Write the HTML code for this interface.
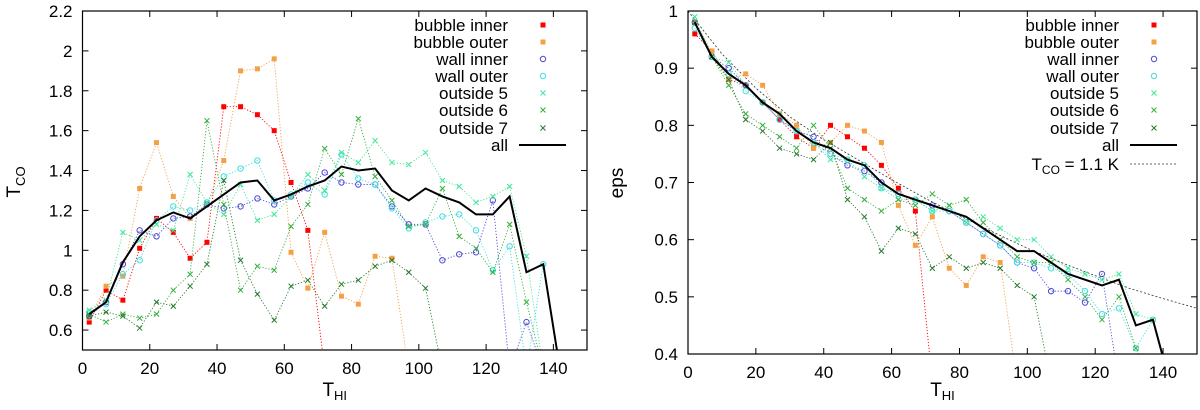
<!DOCTYPE html>
<html><head><meta charset="utf-8"><style>
html,body{margin:0;padding:0;background:#fff;overflow:hidden;width:1200px;height:410px;}
svg{display:block;font-family:"Liberation Sans",sans-serif;}
</style></head><body>
<svg id="chart" width="1200" height="410" viewBox="0 0 1200 410"></svg>
<script>
const xs = [2,7,12,17,22,27,32,37,42,47,52,57,62,67,72,77,82,87,92,97,102,107,112,117,122,127,132,137,142];
const seriesNames = ["bubble inner","bubble outer","wall inner","wall outer","outside 5","outside 6","outside 7","all"];
const N = null;
// left panel T_CO values
const tcoBubbleInner = [0.64,0.80,0.75,1.01,1.16,1.09,0.96,1.04,1.72,1.72,1.68,1.60,1.34,1.10,0.4,N,N,N,N,N,N,N,N,N,N,N,N,N,N];
const tcoBubbleOuter = [0.66,0.82,0.87,1.31,1.54,1.27,1.16,1.23,1.45,1.90,1.91,1.96,0.99,0.81,1.09,0.77,0.73,0.97,0.96,0.4,N,N,N,N,N,N,N,N,N];
const tcoWallInner = [0.67,0.74,0.93,1.10,1.07,1.16,1.17,1.23,1.21,1.22,1.26,1.23,1.27,1.31,1.39,1.34,1.33,1.33,1.22,1.13,1.13,0.95,0.98,0.99,1.25,0.4,0.64,0.4,N];
const tcoWallOuter = [0.69,0.73,0.88,0.95,1.15,1.22,1.20,1.24,1.37,1.41,1.45,1.25,1.28,1.34,1.28,1.48,1.36,1.33,1.21,1.11,1.14,1.17,1.18,1.10,0.90,1.02,0.4,0.93,N];
const tcoOut5 = [0.70,0.75,1.09,1.05,1.13,1.10,1.38,1.24,1.18,1.33,1.15,1.18,1.27,1.38,1.30,1.49,1.44,1.55,1.44,1.43,1.49,1.35,1.32,1.24,1.27,1.32,0.97,0.4,N];
const tcoOut6 = [0.68,0.64,0.68,0.66,0.68,0.80,0.88,1.65,1.23,0.80,0.92,0.90,1.12,1.23,1.51,1.38,1.66,1.37,1.25,1.12,1.13,1.31,1.07,1.01,0.89,1.13,0.74,0.4,N];
const tcoOut7 = [0.67,0.69,0.67,0.61,0.74,0.72,0.82,0.93,1.35,0.95,0.78,0.65,0.82,0.85,0.72,0.83,0.85,0.92,0.95,0.89,0.81,0.4,N,N,N,N,N,N,N];
const tcoAll = [0.68,0.74,0.94,1.07,1.15,1.19,1.16,1.22,1.28,1.34,1.35,1.25,1.28,1.32,1.35,1.42,1.40,1.41,1.30,1.25,1.31,1.27,1.24,1.18,1.18,1.27,0.89,0.93,0.4];
// right panel eps values
const epsBubbleInner = [0.96,0.93,0.88,0.87,0.84,0.81,0.78,0.76,0.80,0.78,0.76,0.73,0.69,0.65,0.35,N,N,N,N,N,N,N,N,N,N,N,N,N,N];
const epsBubbleOuter = [0.98,0.93,0.88,0.89,0.87,0.82,0.80,0.76,0.77,0.80,0.79,0.77,0.66,0.59,0.64,0.55,0.52,0.57,0.56,0.35,N,N,N,N,N,N,N,N,N];
const epsWallInner = [0.98,0.92,0.90,0.87,0.84,0.81,0.79,0.78,0.75,0.73,0.72,0.70,0.68,0.67,0.66,0.65,0.63,0.61,0.59,0.56,0.55,0.51,0.51,0.49,0.54,0.35,N,N,N];
const epsWallOuter = [0.97,0.92,0.89,0.86,0.84,0.81,0.79,0.77,0.75,0.74,0.73,0.69,0.68,0.67,0.65,0.65,0.63,0.61,0.59,0.56,0.56,0.55,0.54,0.51,0.47,0.48,0.41,0.46,N];
const epsOut5 = [0.99,0.92,0.91,0.87,0.84,0.82,0.79,0.77,0.74,0.74,0.71,0.69,0.67,0.67,0.65,0.66,0.63,0.64,0.62,0.60,0.60,0.57,0.55,0.54,0.53,0.54,0.47,0.46,N];
const epsOut6 = [0.98,0.92,0.87,0.82,0.80,0.78,0.76,0.80,0.76,0.69,0.67,0.65,0.67,0.66,0.68,0.66,0.67,0.63,0.60,0.57,0.56,0.56,0.53,0.50,0.46,0.50,0.41,0.35,N];
const epsOut7 = [0.98,0.92,0.88,0.81,0.79,0.76,0.75,0.74,0.77,0.67,0.64,0.58,0.62,0.61,0.55,0.57,0.55,0.56,0.55,0.52,0.50,0.35,N,N,N,N,N,N,N];
const epsAll = [0.98,0.92,0.89,0.87,0.84,0.82,0.79,0.77,0.76,0.74,0.73,0.70,0.68,0.67,0.66,0.65,0.64,0.62,0.60,0.58,0.58,0.56,0.54,0.53,0.52,0.53,0.45,0.46,0.35];
const fitX = [0,10,20,30,40,50,60,70,80,90,100,110,120,130,140,150];
const fitEps = [1.0,0.925,0.865,0.815,0.775,0.74,0.705,0.672,0.642,0.613,0.585,0.56,0.537,0.515,0.497,0.48];
const leftYTicks = [0.6,0.8,1,1.2,1.4,1.6,1.8,2,2.2];
const rightYTicks = [0.4,0.5,0.6,0.7,0.8,0.9,1];
const xTicks = [0,20,40,60,80,100,120,140];

const colors = ["#ff0000","#f4a044","#4a4ad8","#40dede","#3ce896","#34ae3c","#267a2c","#000000"];
const kinds = ["sq","sq","ci","ci","x","x","x","line"];
const NS = "http://www.w3.org/2000/svg";
const svg = document.getElementById("chart");
function mk(tag, attrs, parent){const e=document.createElementNS(NS,tag);for(const k in attrs)e.setAttribute(k,attrs[k]);(parent||svg).appendChild(e);return e;}

function marker(g, kind, cx, cy, color){
  let e;
  if(kind==="sq"){e=mk("rect",{x:cx-2.5,y:cy-2.5,width:5,height:5,fill:color},g);}
  else if(kind==="ci"){e=mk("circle",{cx:cx,cy:cy,r:2.7,fill:"none",stroke:color,"stroke-width":1},g);}
  else {e=mk("path",{d:`M${cx-2.5},${cy-2.5}L${cx+2.5},${cy+2.5}M${cx-2.5},${cy+2.5}L${cx+2.5},${cy-2.5}`,stroke:color,"stroke-width":1,fill:"none"},g);}
  return e;
}

function panel(id, box, ymin, ymax, yTicks, data, legendX, withFit){
  const sx = v => box.l + (v-0)/(150-0)*(box.r-box.l);
  const sy = v => box.b - (v-ymin)/(ymax-ymin)*(box.b-box.t);
  const g = mk("g",{});
  
  
  const cp = mk("clipPath",{id:id+"-clip"},g);
  mk("rect",{x:box.l,y:box.t,width:box.r-box.l,height:box.b-box.t},cp);
  yTicks.forEach(t=>{
    const y=sy(t);
    mk("line",{x1:box.l,x2:box.l+6,y1:y,y2:y,stroke:"#000"},g);
    mk("line",{x1:box.r,x2:box.r-6,y1:y,y2:y,stroke:"#000"},g);
    const tx=mk("text",{x:box.l-10,y:y+6,"text-anchor":"end","font-size":17},g);
    tx.textContent=String(t);
    
    
  });
  xTicks.forEach(t=>{
    const x=sx(t);
    mk("line",{x1:x,x2:x,y1:box.b,y2:box.b-6,stroke:"#000"},g);
    mk("line",{x1:x,x2:x,y1:box.t,y2:box.t+6,stroke:"#000"},g);
    const tx=mk("text",{x:x,y:box.b+24,"text-anchor":"middle","font-size":17},g);
    tx.textContent=String(t);
    
    
  });
  const plot = mk("g",{"clip-path":`url(#${id}-clip)`},g);
  
  
  if(withFit){
    const d = fitX.map((v,i)=>(i?"L":"M")+sx(v)+","+sy(fitEps[i])).join("");
    const p=mk("path",{d:d,fill:"none",stroke:"#333","stroke-width":0.8,"stroke-dasharray":"2,2"},plot);
    
    
  }
  data.forEach((vals,si)=>{
    const sg=mk("g",{},plot);
    
    
    let d="", pen=false;
    vals.forEach((v,i)=>{ if(v===null){pen=false;return;} d+=(pen?"L":"M")+sx(xs[i])+","+sy(v); pen=true; });
    const isAll = kinds[si]==="line";
    mk("path",{d:d,fill:"none",stroke:colors[si],"stroke-width":isAll?2:0.9,"stroke-dasharray":isAll?"none":"1.2,1.8"},sg);
    if(!isAll) vals.forEach((v,i)=>{ if(v===null||v<ymin) return; const m=marker(sg,kinds[si],sx(xs[i]),sy(v),colors[si]);   });
  });
  mk("rect",{x:box.l,y:box.t,width:box.r-box.l,height:box.b-box.t,fill:"none",stroke:"#000","stroke-width":1.2},g);
  const rows=[25,42,59,76,93,110,128,145,164];
  const lg=mk("g",{},g);
  
  
  const n = withFit?9:8;
  for(let i=0;i<n;i++){
    const y=rows[i];
    const t=mk("text",{x:legendX,y:y+6,"text-anchor":"end","font-size":17},lg);
    
    
    if(i<8){ t.textContent=seriesNames[i]; }
    else { t.innerHTML='T<tspan font-size="12" dy="4">CO</tspan><tspan dy="-4"> = 1.1 K</tspan>'; }
    if(i<7) marker(lg,kinds[i],legendX+35,y,colors[i]);
    else if(i===7) mk("line",{x1:legendX+11,x2:legendX+58,y1:y,y2:y,stroke:"#000","stroke-width":2},lg);
    else mk("line",{x1:legendX+11,x2:legendX+58,y1:y,y2:y,stroke:"#333","stroke-width":0.8,"stroke-dasharray":"2,2"},lg);
  }
  const xt=mk("text",{x:(box.l+box.r)/2,y:396,"text-anchor":"middle","font-size":19},g);
  xt.innerHTML='T<tspan font-size="13" dy="4">HI</tspan>';
  
  
}
panel("left",{l:82.5,r:587,t:11,b:350},0.5,2.2,leftYTicks,
  [tcoBubbleInner,tcoBubbleOuter,tcoWallInner,tcoWallOuter,tcoOut5,tcoOut6,tcoOut7,tcoAll],508,false);
panel("right",{l:688,r:1197,t:11,b:354},0.4,1.0,rightYTicks,
  [epsBubbleInner,epsBubbleOuter,epsWallInner,epsWallOuter,epsOut5,epsOut6,epsOut7,epsAll],1119,true);
const yt1=mk("text",{x:0,y:0,"text-anchor":"middle","font-size":19,transform:"translate(20,182) rotate(-90)"});
yt1.innerHTML='T<tspan font-size="13" dy="5">CO</tspan>';


const yt2=mk("text",{x:0,y:0,"text-anchor":"middle","font-size":19,transform:"translate(623,183) rotate(-90)"});
yt2.textContent='eps';


</script>
</body></html>
